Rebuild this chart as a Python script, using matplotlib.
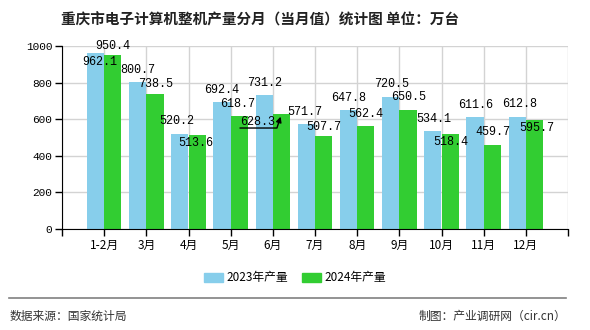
import numpy as np
import matplotlib
matplotlib.use("Agg")
import matplotlib.pyplot as plt
from matplotlib.patches import Patch
from matplotlib.lines import Line2D

plt.rcParams['font.family'] = ['Noto Sans CJK SC', 'DejaVu Sans']

# data
months = ['1-2月', '3月', '4月', '5月', '6月', '7月', '8月', '9月', '10月', '11月', '12月']
output_2023 = [962.1, 800.7, 520.2, 692.4, 731.2, 571.7, 647.8, 720.5, 534.1, 611.6, 612.8]
output_2024 = [950.4, 738.5, 513.6, 618.7, 628.3, 507.7, 562.4, 650.5, 518.4, 459.7, 595.7]

# label nudges (pixels) to mimic the reference label placement
off_2023 = [(4, -9), (0, 12), (-3, 13), (0, 12), (0, 12), (-2, 12), (0, 12), (1, 13), (1, 12), (1, 12), (2, 13)]
off_2024 = [(0, 9), (1, 10), (-1, -8), (-2, 12), (-24, -8), (0, 9), (0, 12), (1, 13), (1, -8), (1, 13), (2, -8)]

c23 = '#87CEEB'
c24 = '#32CD32'
w = 0.41

fig = plt.figure(figsize=(5.9, 3.3), dpi=100)
ax = fig.add_axes([62 / 590, 1 - 229 / 330, 506 / 590, 183 / 330])

x = np.arange(len(months))
ax.bar(x - w / 2, output_2023, width=w, color=c23, zorder=2)
ax.bar(x + w / 2, output_2024, width=w, color=c24, zorder=2)

lab_font = dict(family=['Liberation Mono'], size=8.5, color='black')
for i in range(len(months)):
    dx, dy = off_2023[i]
    ax.annotate(f'{output_2023[i]:.1f}', xy=(x[i] - w / 2, output_2023[i]), xytext=(dx, dy),
                textcoords='offset pixels', ha='center', va='center', zorder=4, **lab_font)
    dx, dy = off_2024[i]
    if i == 4:
        # this one sits to the left of its bar with a leader line
        ax.annotate(f'{output_2024[i]:.1f}', xy=(x[i] + w / 2, output_2024[i]), xytext=(dx, dy),
                    textcoords='offset pixels', ha='center', va='center', zorder=5,
                    arrowprops=dict(arrowstyle='-|>', color='black', lw=1.0, relpos=(0, 0),
                                    patchA=None, shrinkA=0, shrinkB=2, mutation_scale=8,
                                    connectionstyle='angle,angleA=0,angleB=72,rad=0'),
                    **lab_font)
    else:
        ax.annotate(f'{output_2024[i]:.1f}', xy=(x[i] + w / 2, output_2024[i]), xytext=(dx, dy),
                    textcoords='offset pixels', ha='center', va='center', zorder=4, **lab_font)

ax.set_xlim(-1, len(months))
ax.set_ylim(0, 1000)
ax.set_xticks(np.arange(-1, len(months) + 1))
ax.set_xticklabels([''] + months + [''], fontsize=8.5)
ax.set_yticks(np.arange(0, 1001, 200))
ax.set_yticklabels([str(v) for v in range(0, 1001, 200)], family=['Liberation Mono'], fontsize=8)
ax.tick_params(axis='both', direction='out', length=5, width=1, color='black', pad=2)
ax.grid(True, color='#d3d3d3', lw=1, zorder=0)
ax.set_axisbelow(True)
for s in ['top', 'right']:
    ax.spines[s].set_visible(False)
ax.spines['left'].set_color('black')
ax.spines['bottom'].set_color('black')

fig.text(260 / 590, 1 - 19 / 330, '重庆市电子计算机整机产量分月（当月值）统计图 单位：万台',
         ha='center', va='center', fontsize=10.5, weight='bold', color='#222222')

handles = [Patch(color=c23, label='2023年产量'), Patch(color=c24, label='2024年产量')]
fig.legend(handles=handles, loc='center', bbox_to_anchor=(0.5, 1 - 278 / 330), ncol=2,
           frameon=False, fontsize=8.5, handlelength=1.6, handleheight=0.8,
           columnspacing=1.2, handletextpad=0.3)

fig.add_artist(Line2D([9 / 590, 566 / 590], [1 - 298 / 330] * 2, color='#808080', lw=1.2))
fig.text(10 / 590, 1 - 316 / 330, '数据来源：国家统计局', ha='left', va='center', fontsize=8.5, color='#333333')
fig.text(566 / 590, 1 - 316 / 330, '制图：产业调研网（cir.cn）', ha='right', va='center', fontsize=8.5, color='#333333')

fig.savefig('out.png', dpi=100)
